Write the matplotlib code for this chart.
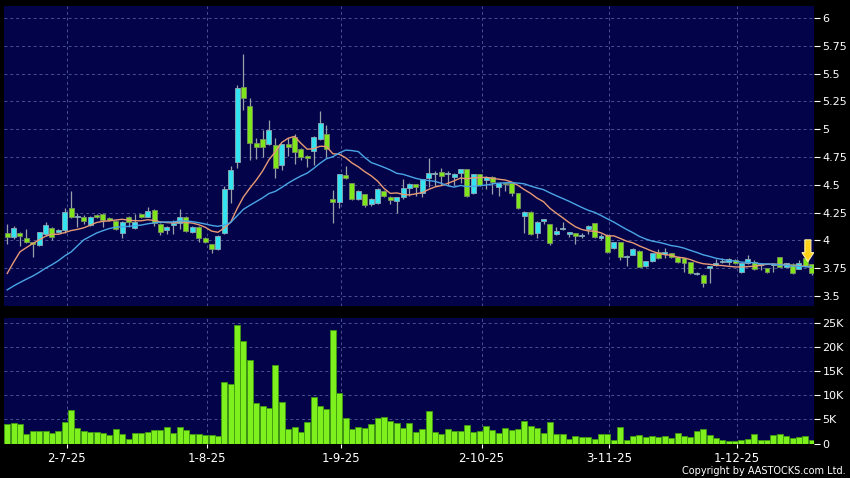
import matplotlib
matplotlib.use('Agg')
import matplotlib.pyplot as plt
from matplotlib.patches import FancyArrow
import numpy as np
import pandas as pd

# daily candles, 18 Jun 2025 .. mid Dec 2025 (trading days)
opens = [4.063, 4.027, 4.063, 4.018, 3.983, 3.958, 4.054, 4.114, 4.076, 4.090,
         4.290, 4.210, 4.213, 4.136, 4.230, 4.240, 4.200, 4.172, 4.064, 4.213,
         4.110, 4.235, 4.213, 4.270, 4.150, 4.090, 4.140, 4.157, 4.213, 4.073,
         4.123, 4.020, 3.965, 3.920, 4.064, 4.459, 4.708, 5.383, 5.211, 4.873,
         4.915, 4.864, 4.858, 4.678, 4.867, 4.927, 4.820, 4.759, 4.806, 4.910,
         4.955, 4.370, 4.345, 4.588, 4.513, 4.370, 4.414, 4.327, 4.333, 4.447,
         4.393, 4.351, 4.388, 4.468, 4.504, 4.423, 4.558, 4.595, 4.612, 4.595,
         4.567, 4.609, 4.639, 4.423, 4.594, 4.540, 4.573, 4.480, 4.519, 4.513,
         4.423, 4.220, 4.253, 4.070, 4.177, 4.145, 4.055, 4.100, 4.058, 4.064,
         4.040, 4.105, 4.154, 4.026, 4.052, 3.929, 3.986, 3.848, 3.869, 3.908,
         3.770, 3.815, 3.893, 3.878, 3.884, 3.854, 3.839, 3.806, 3.698, 3.689,
         3.756, 3.779, 3.803, 3.809, 3.824, 3.718, 3.794, 3.803, 3.776, 3.749,
         3.776, 3.848, 3.764, 3.788, 3.745, 3.844, 3.785]
highs = [4.150, 4.130, 4.080, 4.100, 3.990, 4.080, 4.165, 4.120, 4.100, 4.290,
         4.444, 4.250, 4.230, 4.220, 4.235, 4.245, 4.210, 4.180, 4.170, 4.215,
         4.240, 4.240, 4.298, 4.280, 4.155, 4.130, 4.180, 4.280, 4.220, 4.130,
         4.130, 4.030, 3.970, 4.050, 4.490, 4.670, 5.400, 5.676, 5.278, 4.920,
         4.990, 5.083, 4.918, 4.870, 4.920, 4.960, 4.830, 4.770, 4.940, 5.164,
         5.040, 4.453, 4.600, 4.672, 4.520, 4.450, 4.420, 4.380, 4.470, 4.450,
         4.400, 4.390, 4.549, 4.520, 4.510, 4.555, 4.745, 4.620, 4.648, 4.625,
         4.610, 4.645, 4.645, 4.600, 4.600, 4.575, 4.580, 4.520, 4.525, 4.520,
         4.430, 4.260, 4.260, 4.175, 4.190, 4.150, 4.123, 4.169, 4.080, 4.070,
         4.070, 4.135, 4.160, 4.060, 4.060, 3.990, 3.990, 3.870, 3.930, 3.910,
         3.815, 3.890, 3.920, 3.930, 3.890, 3.860, 3.845, 3.810, 3.720, 3.695,
         3.760, 3.830, 3.840, 3.840, 3.830, 3.800, 3.869, 3.820, 3.790, 3.755,
         3.800, 3.850, 3.800, 3.800, 3.820, 3.870, 3.790]
lows = [3.965, 4.010, 3.950, 3.975, 3.850, 3.950, 4.040, 4.000, 4.070, 4.070,
        4.200, 4.120, 4.145, 4.130, 4.200, 4.120, 4.170, 4.090, 4.025, 4.120,
        4.100, 4.200, 4.210, 4.130, 4.050, 4.060, 4.060, 4.100, 4.080, 4.070,
        3.990, 3.975, 3.884, 3.910, 4.060, 4.333, 4.648, 5.170, 4.723, 4.730,
        4.753, 4.860, 4.560, 4.633, 4.760, 4.690, 4.720, 4.660, 4.680, 4.900,
        4.753, 4.154, 4.290, 4.550, 4.360, 4.360, 4.303, 4.310, 4.330, 4.390,
        4.330, 4.249, 4.370, 4.400, 4.400, 4.393, 4.483, 4.490, 4.498, 4.500,
        4.500, 4.513, 4.390, 4.420, 4.490, 4.459, 4.414, 4.399, 4.440, 4.400,
        4.280, 4.064, 4.050, 4.019, 4.150, 3.960, 4.050, 4.090, 4.030, 3.965,
        4.020, 4.060, 4.020, 4.000, 3.890, 3.920, 3.820, 3.770, 3.865, 3.760,
        3.765, 3.810, 3.830, 3.840, 3.840, 3.800, 3.718, 3.700, 3.690, 3.578,
        3.614, 3.770, 3.800, 3.780, 3.790, 3.710, 3.790, 3.730, 3.730, 3.710,
        3.720, 3.760, 3.760, 3.700, 3.740, 3.765, 3.690]
closes = [4.027, 4.108, 4.036, 3.982, 3.965, 4.072, 4.136, 4.027, 4.097, 4.253,
          4.208, 4.215, 4.177, 4.213, 4.210, 4.180, 4.180, 4.100, 4.163, 4.168,
          4.166, 4.208, 4.267, 4.154, 4.073, 4.123, 4.145, 4.213, 4.087, 4.123,
          4.019, 3.983, 3.920, 4.042, 4.459, 4.633, 5.368, 5.278, 4.873, 4.843,
          4.843, 4.993, 4.648, 4.867, 4.840, 4.798, 4.753, 4.738, 4.932, 5.053,
          4.822, 4.345, 4.597, 4.558, 4.370, 4.447, 4.318, 4.370, 4.459, 4.399,
          4.363, 4.388, 4.468, 4.504, 4.477, 4.549, 4.603, 4.598, 4.579, 4.598,
          4.594, 4.639, 4.399, 4.594, 4.495, 4.567, 4.522, 4.513, 4.507, 4.423,
          4.289, 4.253, 4.058, 4.169, 4.180, 3.974, 4.084, 4.103, 4.073, 4.040,
          4.043, 4.130, 4.028, 4.028, 3.895, 3.986, 3.852, 3.860, 3.920, 3.764,
          3.812, 3.884, 3.839, 3.899, 3.848, 3.809, 3.794, 3.704, 3.700, 3.614,
          3.758, 3.794, 3.818, 3.830, 3.794, 3.794, 3.835, 3.740, 3.779, 3.713,
          3.779, 3.764, 3.794, 3.709, 3.800, 3.770, 3.704]
# volume in thousands of shares
volumes_k = [3.96, 4.2, 3.96, 2.0, 2.5, 2.7, 2.7, 2.15, 2.6, 4.4,
             6.9, 3.2, 2.6, 2.4, 2.4, 2.2, 1.7, 3.0, 1.9, 1.0,
             2.1, 2.1, 2.4, 2.8, 2.8, 3.5, 2.1, 3.5, 2.8, 1.9,
             1.9, 1.7, 1.8, 1.6, 12.7, 12.3, 24.7, 21.4, 17.4, 8.4,
             7.7, 7.4, 16.3, 8.6, 3.1, 3.5, 2.4, 4.4, 9.7, 7.9,
             7.1, 23.6, 10.6, 5.4, 3.1, 3.5, 3.2, 4.1, 5.3, 5.6,
             4.6, 4.3, 3.3, 4.3, 2.4, 3.1, 6.7, 2.4, 1.9, 3.1,
             2.7, 2.7, 3.75, 2.4, 2.6, 3.6, 2.9, 2.15, 3.3, 2.85,
             3.1, 4.7, 3.7, 3.2, 2.15, 4.4, 1.9, 1.9, 0.9, 1.5,
             1.3, 1.25, 1.0, 2.0, 1.9, 0.8, 3.5, 0.8, 1.5, 1.8,
             1.3, 1.5, 1.3, 1.5, 1.2, 2.2, 1.5, 1.4, 2.6, 3.0,
             1.7, 1.1, 0.8, 0.5, 0.5, 0.7, 1.0, 1.9, 0.8, 0.8,
             1.7, 1.9, 1.5, 1.1, 1.3, 1.6, 0.8]
# closes of the 19 sessions before the window (feed the moving averages)
prior_closes = [3.40, 3.41, 3.39, 3.40, 3.41, 3.39, 3.40, 3.38, 3.39, 3.50,
                3.10, 3.10, 3.60, 3.60, 3.75, 3.80, 3.85, 4.10, 4.10]

date_idx = [9, 31, 52, 74, 94, 114]
date_labels = ['2-7-25', '1-8-25', '1-9-25', '2-10-25', '3-11-25', '1-12-25']
price_ticks = [3.5, 3.75, 4, 4.25, 4.5, 4.75, 5, 5.25, 5.5, 5.75, 6]
price_labels = ['3.5', '3.75', '4', '4.25', '4.5', '4.75', '5', '5.25', '5.5', '5.75', '6']
vol_ticks = [0, 5, 10, 15, 20, 25]
vol_labels = ['0', '5K', '10K', '15K', '20K', '25K']

BG = '#03034a'
GRID = '#4a5190'
UP = '#33e3f0'
DOWN = '#80e61c'
VOL = '#7ef01e'

n = len(closes)
x = np.arange(n)
o = np.array(opens)
c = np.array(closes)
allc = pd.Series(prior_closes + closes)
ma10 = allc.rolling(10).mean().values[-n:]
ma20 = allc.rolling(20).mean().values[-n:]

fig = plt.figure(figsize=(8.5, 4.78), dpi=100, facecolor='black')
ax = fig.add_axes([4 / 850, 1 - 306 / 478, 810 / 850, 300 / 478])
axv = fig.add_axes([4 / 850, 1 - 443.5 / 478, 810 / 850, 125.5 / 478], sharex=ax)

tick_pos = [d + 0.3 for d in date_idx]
for a in (ax, axv):
    a.set_facecolor(BG)
    for s in a.spines.values():
        s.set_visible(False)
    a.set_xticks(tick_pos)
    a.grid(True, color=GRID, linestyle=(0, (3, 3)), linewidth=0.7)
    a.set_axisbelow(True)
    a.yaxis.tick_right()
    a.tick_params(axis='y', colors='white', labelsize=8, length=4, width=0.8, pad=2)

# candles
up = c >= o
wick_col = '#9aa0a8'
ax.vlines(x, lows, highs, color=wick_col, linewidth=0.9, zorder=2)
body_h = np.maximum(np.abs(c - o), 0.012)
body_b = np.minimum(o, c)
ax.bar(x[up], body_h[up], bottom=body_b[up], width=0.78, color=UP,
       edgecolor='#8fa9b4', linewidth=0.6, zorder=3)
ax.bar(x[~up], body_h[~up], bottom=body_b[~up], width=0.78, color=DOWN,
       edgecolor='#7a8f60', linewidth=0.6, zorder=3)

ax.plot(x, ma10, color='#e89a74', linewidth=1.0, zorder=4)
ax.plot(x, ma20, color='#4aa6e6', linewidth=1.0, zorder=4)

# marker arrow over the second-last session
ai = n - 2
ax.add_patch(FancyArrow(ai + 0.4, 4.005, 0, -0.195, width=0.95, head_width=1.85,
                        head_length=0.08, length_includes_head=True,
                        facecolor='#ffd21a', edgecolor='#fff0a0', linewidth=0.8, zorder=6))

ax.set_ylim(3.41, 6.108)
ax.set_yticks(price_ticks)
ax.set_yticklabels(price_labels)
ax.set_xlim(-0.5, 126.36)
ax.tick_params(axis='x', bottom=False, labelbottom=False)

axv.bar(x, volumes_k, width=0.94, color=VOL, edgecolor='#3f9a10', linewidth=0.6, zorder=3)
axv.set_ylim(0, 26.1)
axv.set_yticks(vol_ticks)
axv.set_yticklabels(vol_labels)
axv.set_xticklabels(date_labels)
axv.tick_params(axis='x', colors='white', labelsize=8.5, length=3, width=0.8, pad=3)
# no grid line on the zero volume level
axv.get_ygridlines()[0].set_visible(False)

fig.text(846 / 850, 1 - 471 / 478, 'Copyright by AASTOCKS.com Ltd.', color='white',
         fontsize=7, ha='right', va='center')

fig.savefig('out.png', dpi=100, facecolor='black')
